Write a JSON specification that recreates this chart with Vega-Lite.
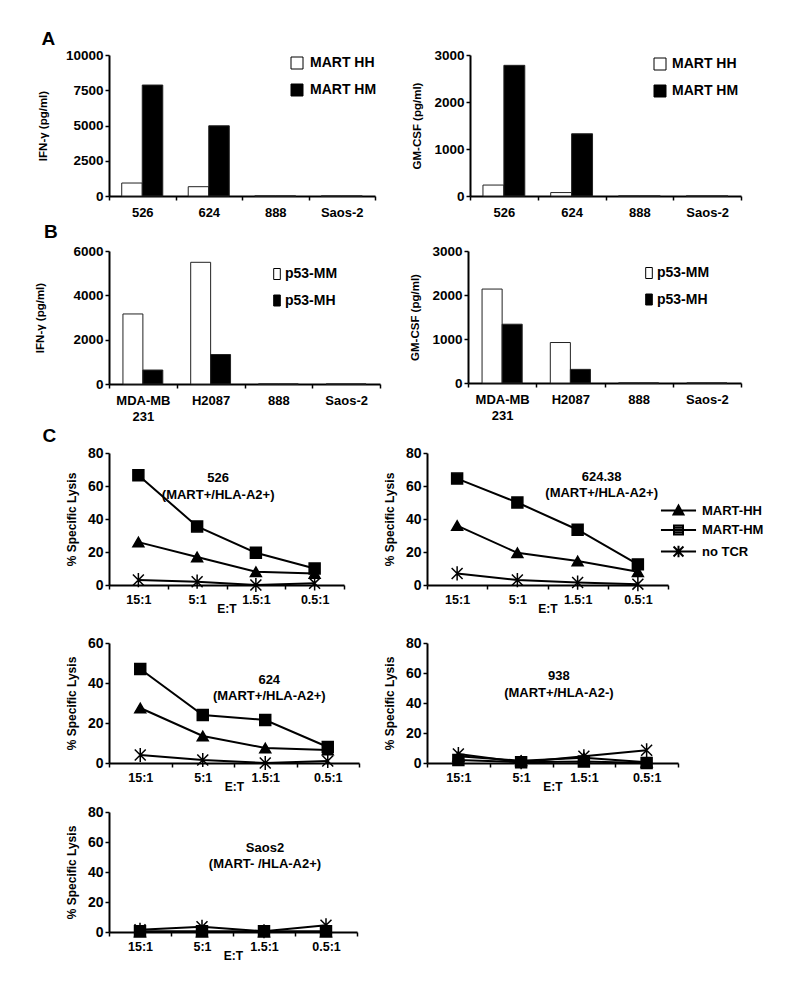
{
"$schema": "https://vega.github.io/schema/vega-lite/v6.json",
"background": "white",
"padding": {"left": 34, "top": 30, "right": 5, "bottom": 5},
"config": {
  "font": "Liberation Sans",
  "view": {"stroke": null},
  "axis": {"domainColor": "black", "domainWidth": 2, "tickColor": "black", "tickWidth": 1.5, "tickSize": 4, "labelColor": "black", "labelFontWeight": "bold", "titleColor": "black", "titleFontWeight": "bold", "grid": false, "labelFont": "Liberation Sans", "titleFont": "Liberation Sans"},
  "legend": {"labelColor": "black", "labelFontWeight": "bold", "labelFont": "Liberation Sans", "padding": 0},
  "title": {"color": "black", "font": "Liberation Sans", "fontWeight": "bold"}
},
"datasets": {
  "bars": [
    {"panel": "A1", "cell": "526", "tcr": "MART HH", "value": 920},
    {"panel": "A1", "cell": "526", "tcr": "MART HM", "value": 7870},
    {"panel": "A1", "cell": "624", "tcr": "MART HH", "value": 660},
    {"panel": "A1", "cell": "624", "tcr": "MART HM", "value": 4980},
    {"panel": "A1", "cell": "888", "tcr": "MART HH", "value": 0},
    {"panel": "A1", "cell": "888", "tcr": "MART HM", "value": 0},
    {"panel": "A1", "cell": "Saos-2", "tcr": "MART HH", "value": 0},
    {"panel": "A1", "cell": "Saos-2", "tcr": "MART HM", "value": 0},
    {"panel": "A2", "cell": "526", "tcr": "MART HH", "value": 233},
    {"panel": "A2", "cell": "526", "tcr": "MART HM", "value": 2780},
    {"panel": "A2", "cell": "624", "tcr": "MART HH", "value": 73},
    {"panel": "A2", "cell": "624", "tcr": "MART HM", "value": 1324},
    {"panel": "A2", "cell": "888", "tcr": "MART HH", "value": 0},
    {"panel": "A2", "cell": "888", "tcr": "MART HM", "value": 0},
    {"panel": "A2", "cell": "Saos-2", "tcr": "MART HH", "value": 0},
    {"panel": "A2", "cell": "Saos-2", "tcr": "MART HM", "value": 0},
    {"panel": "B1", "cell": "MDA-MB 231", "tcr": "p53-MM", "value": 3160},
    {"panel": "B1", "cell": "MDA-MB 231", "tcr": "p53-MH", "value": 630},
    {"panel": "B1", "cell": "H2087", "tcr": "p53-MM", "value": 5490},
    {"panel": "B1", "cell": "H2087", "tcr": "p53-MH", "value": 1330},
    {"panel": "B1", "cell": "888", "tcr": "p53-MM", "value": 0},
    {"panel": "B1", "cell": "888", "tcr": "p53-MH", "value": 0},
    {"panel": "B1", "cell": "Saos-2", "tcr": "p53-MM", "value": 0},
    {"panel": "B1", "cell": "Saos-2", "tcr": "p53-MH", "value": 0},
    {"panel": "B2", "cell": "MDA-MB 231", "tcr": "p53-MM", "value": 2135},
    {"panel": "B2", "cell": "MDA-MB 231", "tcr": "p53-MH", "value": 1336},
    {"panel": "B2", "cell": "H2087", "tcr": "p53-MM", "value": 920},
    {"panel": "B2", "cell": "H2087", "tcr": "p53-MH", "value": 310},
    {"panel": "B2", "cell": "888", "tcr": "p53-MM", "value": 0},
    {"panel": "B2", "cell": "888", "tcr": "p53-MH", "value": 0},
    {"panel": "B2", "cell": "Saos-2", "tcr": "p53-MM", "value": 0},
    {"panel": "B2", "cell": "Saos-2", "tcr": "p53-MH", "value": 0}
  ],
  "lysis": [
    {"target": "526", "et": "15:1", "series": "no TCR", "value": 3},
    {"target": "526", "et": "5:1", "series": "no TCR", "value": 2},
    {"target": "526", "et": "1.5:1", "series": "no TCR", "value": 0},
    {"target": "526", "et": "0.5:1", "series": "no TCR", "value": 1},
    {"target": "526", "et": "15:1", "series": "MART-HH", "value": 26},
    {"target": "526", "et": "5:1", "series": "MART-HH", "value": 17},
    {"target": "526", "et": "1.5:1", "series": "MART-HH", "value": 8},
    {"target": "526", "et": "0.5:1", "series": "MART-HH", "value": 7},
    {"target": "526", "et": "15:1", "series": "MART-HM", "value": 66.5},
    {"target": "526", "et": "5:1", "series": "MART-HM", "value": 35.5},
    {"target": "526", "et": "1.5:1", "series": "MART-HM", "value": 19.5},
    {"target": "526", "et": "0.5:1", "series": "MART-HM", "value": 10},
    {"target": "624.38", "et": "15:1", "series": "no TCR", "value": 7},
    {"target": "624.38", "et": "5:1", "series": "no TCR", "value": 3},
    {"target": "624.38", "et": "1.5:1", "series": "no TCR", "value": 1.5},
    {"target": "624.38", "et": "0.5:1", "series": "no TCR", "value": 0.5},
    {"target": "624.38", "et": "15:1", "series": "MART-HH", "value": 36},
    {"target": "624.38", "et": "5:1", "series": "MART-HH", "value": 19.5},
    {"target": "624.38", "et": "1.5:1", "series": "MART-HH", "value": 14.5},
    {"target": "624.38", "et": "0.5:1", "series": "MART-HH", "value": 8},
    {"target": "624.38", "et": "15:1", "series": "MART-HM", "value": 64.5},
    {"target": "624.38", "et": "5:1", "series": "MART-HM", "value": 50},
    {"target": "624.38", "et": "1.5:1", "series": "MART-HM", "value": 33.5},
    {"target": "624.38", "et": "0.5:1", "series": "MART-HM", "value": 12.5},
    {"target": "624", "et": "15:1", "series": "no TCR", "value": 4},
    {"target": "624", "et": "5:1", "series": "no TCR", "value": 1.5},
    {"target": "624", "et": "1.5:1", "series": "no TCR", "value": 0},
    {"target": "624", "et": "0.5:1", "series": "no TCR", "value": 1},
    {"target": "624", "et": "15:1", "series": "MART-HH", "value": 27.5},
    {"target": "624", "et": "5:1", "series": "MART-HH", "value": 13.5},
    {"target": "624", "et": "1.5:1", "series": "MART-HH", "value": 7.5},
    {"target": "624", "et": "0.5:1", "series": "MART-HH", "value": 6.5},
    {"target": "624", "et": "15:1", "series": "MART-HM", "value": 47},
    {"target": "624", "et": "5:1", "series": "MART-HM", "value": 24},
    {"target": "624", "et": "1.5:1", "series": "MART-HM", "value": 21.5},
    {"target": "624", "et": "0.5:1", "series": "MART-HM", "value": 8},
    {"target": "938", "et": "15:1", "series": "no TCR", "value": 6},
    {"target": "938", "et": "5:1", "series": "no TCR", "value": 0.5},
    {"target": "938", "et": "1.5:1", "series": "no TCR", "value": 4.5},
    {"target": "938", "et": "0.5:1", "series": "no TCR", "value": 8.5},
    {"target": "938", "et": "15:1", "series": "MART-HH", "value": 4.5},
    {"target": "938", "et": "5:1", "series": "MART-HH", "value": 1.5},
    {"target": "938", "et": "1.5:1", "series": "MART-HH", "value": 3.5},
    {"target": "938", "et": "0.5:1", "series": "MART-HH", "value": 0.5},
    {"target": "938", "et": "15:1", "series": "MART-HM", "value": 2},
    {"target": "938", "et": "5:1", "series": "MART-HM", "value": 0.5},
    {"target": "938", "et": "1.5:1", "series": "MART-HM", "value": 1},
    {"target": "938", "et": "0.5:1", "series": "MART-HM", "value": 0},
    {"target": "Saos2", "et": "15:1", "series": "no TCR", "value": 1.5},
    {"target": "Saos2", "et": "5:1", "series": "no TCR", "value": 3.5},
    {"target": "Saos2", "et": "1.5:1", "series": "no TCR", "value": 0.5},
    {"target": "Saos2", "et": "0.5:1", "series": "no TCR", "value": 4.5},
    {"target": "Saos2", "et": "15:1", "series": "MART-HH", "value": 0},
    {"target": "Saos2", "et": "5:1", "series": "MART-HH", "value": 0},
    {"target": "Saos2", "et": "1.5:1", "series": "MART-HH", "value": 0},
    {"target": "Saos2", "et": "0.5:1", "series": "MART-HH", "value": 0},
    {"target": "Saos2", "et": "15:1", "series": "MART-HM", "value": 0.5},
    {"target": "Saos2", "et": "5:1", "series": "MART-HM", "value": 0.5},
    {"target": "Saos2", "et": "1.5:1", "series": "MART-HM", "value": 0.5},
    {"target": "Saos2", "et": "0.5:1", "series": "MART-HM", "value": 0.5}
  ]
},
"spacing": 20,
"resolve": {"scale": {"fill": "independent", "xOffset": "independent", "shape": "independent"}, "legend": {"fill": "independent", "shape": "independent"}},
"vconcat": [
 {
  "spacing": 4,
  "resolve": {"scale": {"fill": "independent", "xOffset": "independent", "shape": "independent"}, "legend": {"fill": "independent", "shape": "independent"}},
  "vconcat": [
   {
    "spacing": 34,
    "resolve": {"scale": {"fill": "independent", "xOffset": "independent", "shape": "independent"}, "legend": {"fill": "independent", "shape": "independent"}},
    "hconcat": [
     {
      "title": {"text": "A", "anchor": "start", "frame": "bounds", "fontSize": 19, "dx": 4, "offset": -16, "baseline": "alphabetic"},
      "width": 266, "height": 141,
      "data": {"name": "bars"},
      "transform": [{"filter": "datum.panel === 'A1'"}],
      "mark": {"type": "bar", "stroke": "#222222", "strokeWidth": 1},
      "encoding": {
        "x": {"field": "cell", "type": "nominal", "sort": null, "scale": {"paddingInner": 0, "paddingOuter": 0}, "axis": {"title": null, "labelAngle": 0, "tickBand": "extent", "labelPadding": 6, "labelFontSize": 13}},
        "xOffset": {"field": "tcr", "type": "nominal", "sort": null, "scale": {"paddingInner": 0, "paddingOuter": 0.62}},
        "y": {"field": "value", "type": "quantitative", "scale": {"domain": [0, 10000], "nice": false}, "axis": {"title": "IFN-γ (pg/ml)", "values": [0, 2500, 5000, 7500, 10000], "format": "d", "labelFontSize": 13.5, "titleFontSize": 11.5, "titlePadding": 17}},
        "fill": {"field": "tcr", "type": "nominal", "sort": null, "scale": {"range": ["white", "black"]}, "legend": {"title": null, "orient": "none", "legendX": 181, "legendY": 1, "direction": "vertical", "symbolType": "square", "symbolSize": 144, "symbolStrokeColor": "black", "symbolStrokeWidth": 1, "labelFontSize": 14, "labelOffset": 6, "rowPadding": 11}}
      }
     },
     {
      "width": 271, "height": 141,
      "data": {"name": "bars"},
      "transform": [{"filter": "datum.panel === 'A2'"}],
      "mark": {"type": "bar", "stroke": "#222222", "strokeWidth": 1},
      "encoding": {
        "x": {"field": "cell", "type": "nominal", "sort": null, "scale": {"paddingInner": 0, "paddingOuter": 0}, "axis": {"title": null, "labelAngle": 0, "tickBand": "extent", "labelPadding": 6, "labelFontSize": 13}},
        "xOffset": {"field": "tcr", "type": "nominal", "sort": null, "scale": {"paddingInner": 0, "paddingOuter": 0.62}},
        "y": {"field": "value", "type": "quantitative", "scale": {"domain": [0, 3000], "nice": false}, "axis": {"title": "GM-CSF (pg/ml)", "values": [0, 1000, 2000, 3000], "format": "d", "labelFontSize": 13.5, "titleFontSize": 11.5, "titlePadding": 11}},
        "fill": {"field": "tcr", "type": "nominal", "sort": null, "scale": {"range": ["white", "black"]}, "legend": {"title": null, "orient": "none", "legendX": 183, "legendY": 2, "direction": "vertical", "symbolType": "square", "symbolSize": 144, "symbolStrokeColor": "black", "symbolStrokeWidth": 1, "labelFontSize": 14, "labelOffset": 5, "rowPadding": 11}}
      }
     }
    ]
   },
   {
    "spacing": 28,
    "resolve": {"scale": {"fill": "independent", "xOffset": "independent", "shape": "independent"}, "legend": {"fill": "independent", "shape": "independent"}},
    "hconcat": [
     {
      "title": {"text": "B", "anchor": "start", "frame": "bounds", "fontSize": 19, "dx": 9, "offset": -13, "baseline": "alphabetic"},
      "width": 271, "height": 133,
      "data": {"name": "bars"},
      "transform": [{"filter": "datum.panel === 'B1'"}],
      "mark": {"type": "bar", "stroke": "#222222", "strokeWidth": 1},
      "encoding": {
        "x": {"field": "cell", "type": "nominal", "sort": null, "scale": {"paddingInner": 0, "paddingOuter": 0}, "axis": {"title": null, "labelAngle": 0, "tickBand": "extent", "labelPadding": 6, "labelFontSize": 13, "labelLineHeight": 16, "labelExpr": "datum.label === 'MDA-MB 231' ? ['MDA-MB', '231'] : datum.label"}},
        "xOffset": {"field": "tcr", "type": "nominal", "sort": null, "scale": {"paddingInner": 0, "paddingOuter": 0.7}},
        "y": {"field": "value", "type": "quantitative", "scale": {"domain": [0, 6000], "nice": false}, "axis": {"title": "IFN-γ (pg/ml)", "values": [0, 2000, 4000, 6000], "format": "d", "labelFontSize": 13.5, "titleFontSize": 11.5, "titlePadding": 27}},
        "fill": {"field": "tcr", "type": "nominal", "sort": null, "scale": {"range": ["white", "black"]}, "legend": {"title": null, "orient": "none", "legendX": 161, "legendY": 16, "direction": "vertical", "symbolType": "M-0.6,-1H0.6V1H-0.6Z", "symbolSize": 121, "symbolStrokeColor": "black", "symbolStrokeWidth": 1, "labelFontSize": 14, "labelOffset": 1, "rowPadding": 10.5}}
      }
     },
     {
      "width": 273, "height": 132,
      "data": {"name": "bars"},
      "transform": [{"filter": "datum.panel === 'B2'"}],
      "mark": {"type": "bar", "stroke": "#222222", "strokeWidth": 1},
      "encoding": {
        "x": {"field": "cell", "type": "nominal", "sort": null, "scale": {"paddingInner": 0, "paddingOuter": 0}, "axis": {"title": null, "labelAngle": 0, "tickBand": "extent", "labelPadding": 6, "labelFontSize": 13, "labelLineHeight": 16, "labelExpr": "datum.label === 'MDA-MB 231' ? ['MDA-MB', '231'] : datum.label"}},
        "xOffset": {"field": "tcr", "type": "nominal", "sort": null, "scale": {"paddingInner": 0, "paddingOuter": 0.7}},
        "y": {"field": "value", "type": "quantitative", "scale": {"domain": [0, 3000], "nice": false}, "axis": {"title": "GM-CSF (pg/ml)", "values": [0, 1000, 2000, 3000], "format": "d", "labelFontSize": 13.5, "titleFontSize": 11.5, "titlePadding": 11}},
        "fill": {"field": "tcr", "type": "nominal", "sort": null, "scale": {"range": ["white", "black"]}, "legend": {"title": null, "orient": "none", "legendX": 174, "legendY": 15, "direction": "vertical", "symbolType": "M-0.6,-1H0.6V1H-0.6Z", "symbolSize": 121, "symbolStrokeColor": "black", "symbolStrokeWidth": 1, "labelFontSize": 14, "labelOffset": 1, "rowPadding": 10.5}}
      }
     }
    ]
   },
   {
    "spacing": 38,
    "resolve": {"scale": {"fill": "independent", "xOffset": "independent", "shape": "independent"}, "legend": {"fill": "independent", "shape": "independent"}},
    "hconcat": [
     {
      "title": {"text": "C", "anchor": "start", "frame": "bounds", "fontSize": 19, "dx": -23, "offset": -15, "baseline": "alphabetic"},
      "width": 235, "height": 132,
      "data": {"name": "lysis"},
      "transform": [{"filter": "datum.target === '526'"}],
      "encoding": {
        "x": {"field": "et", "type": "nominal", "sort": null, "bandPosition": 0.5, "scale": {"type": "band", "domain": ["15:1", "5:1", "1.5:1", "0.5:1"], "paddingInner": 0, "paddingOuter": 0}, "axis": {"title": "E:T", "labelAngle": 0, "tickBand": "extent", "labelFontSize": 12.5, "labelPadding": 4, "titleFontSize": 12, "titlePadding": -2}},
        "y": {"field": "value", "type": "quantitative", "scale": {"domain": [0, 80], "nice": false}, "axis": {"title": "% Specific Lysis", "values": [0, 20, 40, 60, 80], "labelFontSize": 14, "titleFontSize": 12, "titlePadding": 9}}
      },
      "layer": [
        {"mark": {"type": "line", "color": "black", "strokeWidth": 2}, "encoding": {"detail": {"field": "series", "type": "nominal"}}},
        {"mark": {"type": "point", "filled": true, "color": "black", "stroke": "black", "strokeWidth": 1.5, "size": 120, "opacity": 1}, "encoding": {"shape": {"field": "series", "type": "nominal", "scale": {"domain": ["MART-HH", "MART-HM", "no TCR"], "range": ["triangle-up", "square", "M-1,-1L1,1M-1,1L1,-1M0,-1.3V1.3"]}, "legend": null}}},
        {"transform": [{"filter": "datum.et === '15:1' && datum.series === 'no TCR'"}], "mark": {"type": "text", "fontSize": 13, "fontWeight": "bold", "lineHeight": 16.5, "baseline": "middle", "align": "center", "color": "black", "dx": 21}, "encoding": {"x": {"datum": "5:1", "type": "nominal"}, "y": {"datum": 64.8, "type": "quantitative"}, "text": {"value": ["526", "(MART+/HLA-A2+)"]}}}
      ]
     },
     {
      "width": 241, "height": 132,
      "data": {"name": "lysis"},
      "transform": [{"filter": "datum.target === '624.38'"}],
      "encoding": {
        "x": {"field": "et", "type": "nominal", "sort": null, "bandPosition": 0.5, "scale": {"type": "band", "domain": ["15:1", "5:1", "1.5:1", "0.5:1"], "paddingInner": 0, "paddingOuter": 0}, "axis": {"title": "E:T", "labelAngle": 0, "tickBand": "extent", "labelFontSize": 12.5, "labelPadding": 4, "titleFontSize": 12, "titlePadding": -2}},
        "y": {"field": "value", "type": "quantitative", "scale": {"domain": [0, 80], "nice": false}, "axis": {"title": "% Specific Lysis", "values": [0, 20, 40, 60, 80], "labelFontSize": 14, "titleFontSize": 12, "titlePadding": 9}}
      },
      "resolve": {"scale": {"shape": "independent"}},
      "layer": [
        {"mark": {"type": "line", "color": "black", "strokeWidth": 2}, "encoding": {"detail": {"field": "series", "type": "nominal"}}},
        {"mark": {"type": "point", "filled": true, "color": "black", "stroke": "black", "strokeWidth": 1.5, "size": 120, "opacity": 1}, "encoding": {"shape": {"field": "series", "type": "nominal", "scale": {"domain": ["MART-HH", "MART-HM", "no TCR"], "range": ["triangle-up", "square", "M-1,-1L1,1M-1,1L1,-1M0,-1.3V1.3"]}, "legend": null}}},
        {"transform": [{"filter": "datum.target === 'none'"}], "mark": {"type": "point", "filled": false, "color": "black", "strokeWidth": 2, "opacity": 1}, "encoding": {"shape": {"field": "series", "type": "nominal", "scale": {"domain": ["MART-HH", "MART-HM", "no TCR"], "range": ["M-3.9,0H3.9M-1.1,0.9L0,-1.1L1.1,0.9ZM-0.85,0.45H0.85M-0.6,0H0.6M-0.35,-0.45H0.35", "M-3.9,0H3.9M-1,-1H1V1H-1ZM-1,-0.5H1M-1,0.5H1", "M-3.9,0H3.9M-1.1,-1.1L1.1,1.1M-1.1,1.1L1.1,-1.1M0,-1.3V1.3"]}, "legend": {"title": null, "orient": "none", "legendX": 245, "legendY": 51, "direction": "vertical", "symbolSize": 81, "symbolStrokeColor": "black", "symbolStrokeWidth": 2, "labelFontSize": 13, "labelOffset": 17, "rowPadding": 2.5}}}},
        {"transform": [{"filter": "datum.et === '15:1' && datum.series === 'no TCR'"}], "mark": {"type": "text", "fontSize": 13, "fontWeight": "bold", "lineHeight": 16.5, "baseline": "middle", "align": "center", "color": "black", "dx": 24}, "encoding": {"x": {"datum": "1.5:1", "type": "nominal"}, "y": {"datum": 65.5, "type": "quantitative"}, "text": {"value": ["624.38", "(MART+/HLA-A2+)"]}}}
      ]
     }
    ]
   }
  ]
 },
 {
  "spacing": 11,
  "resolve": {"scale": {"fill": "independent", "xOffset": "independent", "shape": "independent"}, "legend": {"fill": "independent", "shape": "independent"}},
  "vconcat": [
   {
    "spacing": 23,
    "resolve": {"scale": {"fill": "independent", "xOffset": "independent", "shape": "independent"}, "legend": {"fill": "independent", "shape": "independent"}},
    "hconcat": [
     {
      "title": {"text": " ", "anchor": "start", "frame": "bounds", "fontSize": 1, "dx": -28, "offset": 0},
      "width": 250, "height": 120,
      "data": {"name": "lysis"},
      "transform": [{"filter": "datum.target === '624'"}],
      "encoding": {
        "x": {"field": "et", "type": "nominal", "sort": null, "bandPosition": 0.5, "scale": {"type": "band", "domain": ["15:1", "5:1", "1.5:1", "0.5:1"], "paddingInner": 0, "paddingOuter": 0}, "axis": {"title": "E:T", "labelAngle": 0, "tickBand": "extent", "labelFontSize": 12.5, "labelPadding": 4, "titleFontSize": 12, "titlePadding": -2}},
        "y": {"field": "value", "type": "quantitative", "scale": {"domain": [0, 60], "nice": false}, "axis": {"title": "% Specific Lysis", "values": [0, 20, 40, 60], "labelFontSize": 14, "titleFontSize": 12, "titlePadding": 9}}
      },
      "layer": [
        {"mark": {"type": "line", "color": "black", "strokeWidth": 2}, "encoding": {"detail": {"field": "series", "type": "nominal"}}},
        {"mark": {"type": "point", "filled": true, "color": "black", "stroke": "black", "strokeWidth": 1.5, "size": 120, "opacity": 1}, "encoding": {"shape": {"field": "series", "type": "nominal", "scale": {"domain": ["MART-HH", "MART-HM", "no TCR"], "range": ["triangle-up", "square", "M-1,-1L1,1M-1,1L1,-1M0,-1.3V1.3"]}, "legend": null}}},
        {"transform": [{"filter": "datum.et === '15:1' && datum.series === 'no TCR'"}], "mark": {"type": "text", "fontSize": 13, "fontWeight": "bold", "lineHeight": 16.5, "baseline": "middle", "align": "center", "color": "black", "dx": 4}, "encoding": {"x": {"datum": "1.5:1", "type": "nominal"}, "y": {"datum": 41.6, "type": "quantitative"}, "text": {"value": ["624", "(MART+/HLA-A2+)"]}}}
      ]
     },
     {
      "width": 251, "height": 120,
      "data": {"name": "lysis"},
      "transform": [{"filter": "datum.target === '938'"}],
      "encoding": {
        "x": {"field": "et", "type": "nominal", "sort": null, "bandPosition": 0.5, "scale": {"type": "band", "domain": ["15:1", "5:1", "1.5:1", "0.5:1"], "paddingInner": 0, "paddingOuter": 0}, "axis": {"title": "E:T", "labelAngle": 0, "tickBand": "extent", "labelFontSize": 12.5, "labelPadding": 4, "titleFontSize": 12, "titlePadding": -2}},
        "y": {"field": "value", "type": "quantitative", "scale": {"domain": [0, 80], "nice": false}, "axis": {"title": "% Specific Lysis", "values": [0, 20, 40, 60, 80], "labelFontSize": 14, "titleFontSize": 12, "titlePadding": 9}}
      },
      "layer": [
        {"mark": {"type": "line", "color": "black", "strokeWidth": 2}, "encoding": {"detail": {"field": "series", "type": "nominal"}}},
        {"mark": {"type": "point", "filled": true, "color": "black", "stroke": "black", "strokeWidth": 1.5, "size": 120, "opacity": 1}, "encoding": {"shape": {"field": "series", "type": "nominal", "scale": {"domain": ["MART-HH", "MART-HM", "no TCR"], "range": ["triangle-up", "square", "M-1,-1L1,1M-1,1L1,-1M0,-1.3V1.3"]}, "legend": null}}},
        {"transform": [{"filter": "datum.et === '15:1' && datum.series === 'no TCR'"}], "mark": {"type": "text", "fontSize": 13, "fontWeight": "bold", "lineHeight": 16.5, "baseline": "middle", "align": "center", "color": "black", "dx": -25}, "encoding": {"x": {"datum": "1.5:1", "type": "nominal"}, "y": {"datum": 58, "type": "quantitative"}, "text": {"value": ["938", "(MART+/HLA-A2-)"]}}}
      ]
     }
    ]
   },
   {
    "title": {"text": " ", "anchor": "start", "frame": "bounds", "fontSize": 1, "dx": -28, "offset": 0},
    "width": 248, "height": 120,
    "data": {"name": "lysis"},
    "transform": [{"filter": "datum.target === 'Saos2'"}],
    "encoding": {
      "x": {"field": "et", "type": "nominal", "sort": null, "bandPosition": 0.5, "scale": {"type": "band", "domain": ["15:1", "5:1", "1.5:1", "0.5:1"], "paddingInner": 0, "paddingOuter": 0}, "axis": {"title": "E:T", "labelAngle": 0, "tickBand": "extent", "labelFontSize": 12.5, "labelPadding": 4, "titleFontSize": 12, "titlePadding": -2}},
      "y": {"field": "value", "type": "quantitative", "scale": {"domain": [0, 80], "nice": false}, "axis": {"title": "% Specific Lysis", "values": [0, 20, 40, 60, 80], "labelFontSize": 14, "titleFontSize": 12, "titlePadding": 9}}
    },
    "layer": [
      {"mark": {"type": "line", "color": "black", "strokeWidth": 2}, "encoding": {"detail": {"field": "series", "type": "nominal"}}},
      {"mark": {"type": "point", "filled": true, "color": "black", "stroke": "black", "strokeWidth": 1.5, "size": 120, "opacity": 1}, "encoding": {"shape": {"field": "series", "type": "nominal", "scale": {"domain": ["MART-HH", "MART-HM", "no TCR"], "range": ["triangle-up", "square", "M-1,-1L1,1M-1,1L1,-1M0,-1.3V1.3"]}, "legend": null}}},
      {"transform": [{"filter": "datum.et === '15:1' && datum.series === 'no TCR'"}], "mark": {"type": "text", "fontSize": 13, "fontWeight": "bold", "lineHeight": 16.5, "baseline": "middle", "align": "center", "color": "black", "dx": 1}, "encoding": {"x": {"datum": "1.5:1", "type": "nominal"}, "y": {"datum": 56.2, "type": "quantitative"}, "text": {"value": ["Saos2", "(MART- /HLA-A2+)"]}}}
    ]
   }
  ]
 }
]
}
